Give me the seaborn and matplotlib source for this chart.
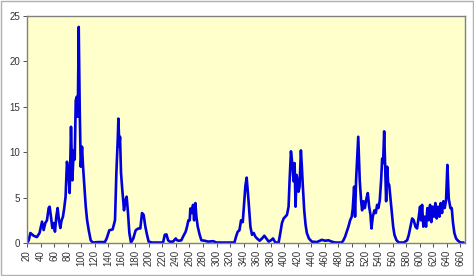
import matplotlib
matplotlib.use("Agg")
import matplotlib.pyplot as plt
import seaborn as sns
import pandas as pd
from matplotlib.patches import Rectangle

# x positions (category index) and values
x_vals = [20, 22.5, 25, 29.8, 34.6, 38.5, 42.2, 44.6, 47, 49.5, 52, 53.4, 55.4, 57.4, 59.4,
          61.3, 63.3, 65.2, 67.2, 69.2, 71.1, 73.1, 75, 77, 79, 81, 83, 85, 87, 89, 90.5,
          92, 93.5, 95, 96.4, 97.9, 99.4, 101.3, 102.8, 104.8, 106.8, 108.8, 111.2, 114.1,
          117, 125, 135, 137.7, 141.6, 146.5, 150, 152, 154, 155, 156.4, 157.4, 158.9,
          160.4, 163.3, 165.3, 167.2, 169.2, 171.2, 173.6, 177, 180.5, 184.4, 187.4,
          189.9, 192.3, 194.8, 197.3, 199.7, 205, 212, 221, 223.5, 226, 228.4, 230.8,
          235.7, 239.7, 241.6, 244.6, 248, 250.5, 254.4, 256.4, 258.4, 260.3, 261.3,
          263.3, 265.3, 266.8, 268.7, 270.2, 272.2, 275.1, 277.6, 282.5, 287.4, 295,
          300, 310, 320, 326.4, 328.8, 331.3, 333.8, 336.2, 338.7, 341.1, 342.6, 344.5,
          347.5, 350, 352.4, 354.9, 357.3, 359.8, 363.7, 367.2, 370.6, 373.5, 377,
          380.4, 383.4, 386.8, 391.7, 394.2, 396.6, 399.1, 401.5, 404, 406.4, 407.9,
          409.9, 411.8, 413.8, 415.3, 416.7, 418.2, 419.7, 421.1, 422.6, 424.6, 426,
          427.5, 429.5, 431.5, 433.4, 436.4, 440.8, 448.2, 455.5, 460.4, 465.3, 470.2,
          475.2, 485, 487.4, 489.9, 492.3, 494.8, 497.3, 499.7, 501.2, 503.2, 504.6,
          506.1, 509.3, 510.5, 511.5, 513.5, 515, 517, 519, 521.4, 523.4, 525.4, 527.4,
          528.8, 530.8, 533.2, 535.2, 537.2, 539.1, 541.1, 543.1, 544.6, 546, 547.6,
          549, 550.5, 552, 553.5, 555, 556.9, 558.9, 560.9, 562.8, 565.8, 569.2, 576.6,
          581.5, 584, 586.4, 588.9, 591.3, 593.8, 596.2, 598.7, 600.6, 602.1, 603.6,
          605.5, 607.5, 609.5, 611.4, 613.4, 615.4, 617.3, 619.3, 621.3, 623.2, 625.2,
          627.2, 629.2, 631.1, 633.1, 635.1, 637, 639, 641, 643, 645.4, 647.4, 649.3,
          651.3, 653.8, 656.7, 660.2, 665]
y_vals = [0.0, 0.3, 1.1, 0.8, 0.65, 1.1, 2.35, 1.43, 2.2, 2.5, 3.85, 4.0, 2.9, 1.65, 2.2,
          1.25, 2.9, 3.85, 2.5, 1.65, 2.5, 2.9, 3.85, 5.1, 8.95, 8.0, 5.5, 12.8, 6.9, 10.2, 9.2,
          15.7, 16.1, 13.9, 23.8, 14.6, 8.4, 10.6, 8.4, 6.2, 4.0, 2.5, 1.4, 0.3,
          0.05, 0.1, 0.1, 0.5, 1.4, 1.5, 2.5, 7.7, 11.3, 13.7, 10.6, 11.7, 7.7,
          6.2, 3.6, 4.7, 5.1, 3.3, 1.1, 0.05, 0.5, 1.4, 1.6, 1.6,
          3.3, 3.1, 1.8, 0.9, 0.15, 0.05, 0.05, 0.05, 0.9, 0.95, 0.3, 0.15,
          0.15, 0.5, 0.3, 0.25, 0.3, 0.7, 1.25, 1.8, 2.5, 2.5, 3.8,
          3.3, 4.2, 2.5, 4.4, 2.9, 1.8, 0.9, 0.3, 0.25, 0.15, 0.2,
          0.05, 0.05, 0.05, 0.05, 0.7, 1.25, 1.4, 2.5, 2.3, 4.7, 6.3, 7.2,
          4.4, 1.8, 0.9, 1.1, 0.7, 0.5, 0.25, 0.5, 0.8, 0.5, 0.15,
          0.3, 0.5, 0.05, 0.05, 1.1, 2.2, 2.7, 2.9, 3.1, 4.0, 6.9,
          10.1, 8.8, 6.8, 8.8, 4.0, 7.5, 6.9, 5.65, 6.2, 10.2, 8.4,
          6.2, 3.6, 2.0, 1.1, 0.5, 0.15, 0.1, 0.35, 0.25, 0.3, 0.15,
          0.05, 0.05, 0.3, 0.7, 1.25, 1.8, 2.5, 2.9, 3.8, 6.2, 2.9,
          6.9, 11.7, 9.1, 6.9, 4.7, 3.6, 4.6, 3.85, 4.9, 5.5, 4.0, 3.1,
          1.6, 2.9, 3.6, 3.3, 4.2, 3.85, 4.7, 6.9, 9.3, 8.8, 12.3,
          8.4, 4.6, 8.4, 6.6, 6.4, 4.9, 3.3, 1.8, 0.9, 0.3, 0.05, 0.05,
          0.3, 0.9, 1.8, 2.7, 2.5, 1.8, 1.6, 2.9, 4.0, 2.5, 4.2,
          1.8, 2.9, 1.8, 3.85, 2.5, 4.2, 2.3, 4.0, 2.9, 4.4, 2.7,
          4.0, 2.9, 4.4, 3.3, 4.6, 3.85, 4.7, 8.6, 4.9, 3.85, 3.85, 2.2,
          1.1, 0.5, 0.25, 0.05, 0.05]

x_ticks = list(range(20, 661, 20))
y_ticks = [0, 5, 10, 15, 20, 25]

df = pd.DataFrame({"x": x_vals, "y": y_vals})

sns.set_style("white")
plt.rcParams['font.family'] = ['Liberation Sans', 'DejaVu Sans']

fig = plt.figure(figsize=(4.74, 2.76), dpi=100)
fig.patch.set_facecolor("white")
ax = fig.add_axes([27 / 474, 1 - 243 / 276, (465 - 27) / 474, (243 - 16) / 276])
ax.set_facecolor("#FFFFCC")

sns.lineplot(data=df, x="x", y="y", ax=ax, color="#0000DD", linewidth=1.9,
             sort=False, estimator=None)

ax.set_xlim(20, 667)
ax.set_ylim(0, 25)
ax.set_xticks(x_ticks)
ax.set_xticklabels([str(t) for t in x_ticks], rotation=90)
ax.set_yticks(y_ticks)
ax.set_xlabel("")
ax.set_ylabel("")
ax.tick_params(axis="both", labelsize=7, colors="#333333", length=3, width=0.6,
               direction="out", pad=2)
ax.tick_params(axis="x", bottom=True)
ax.tick_params(axis="y", left=True)
for side in ["top", "right"]:
    ax.spines[side].set_color("#808080")
    ax.spines[side].set_linewidth(1.0)
for side in ["left", "bottom"]:
    ax.spines[side].set_color("#808080")
    ax.spines[side].set_linewidth(1.0)
ax.grid(False)

fig.patches.append(Rectangle((0.002, 0.003), 0.995, 0.993, transform=fig.transFigure,
                             fill=False, edgecolor="#B0B0B0", linewidth=1.0))

fig.savefig("out.png", dpi=100, facecolor="white")
